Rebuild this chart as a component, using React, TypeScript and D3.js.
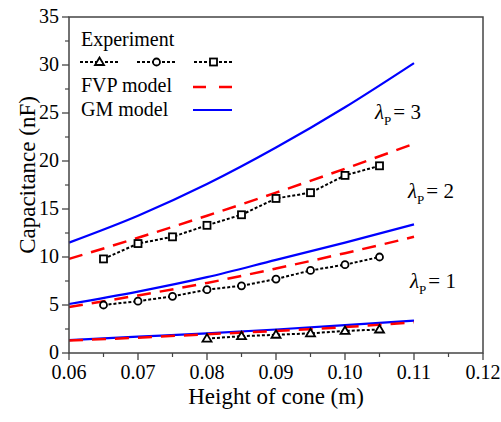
import React from 'react';
import * as d3 from 'd3';

// model curves, sampled every 0.01 m
const modelX = [0.06, 0.07, 0.08, 0.09, 0.10, 0.11];
const gm3 = [11.5, 14.3, 17.6, 21.4, 25.6, 30.2];
const fvp3 = [9.8, 12.0, 14.3, 16.7, 19.2, 21.8];
const gm2 = [5.1, 6.4, 7.9, 9.7, 11.5, 13.4];
const fvp2 = [4.8, 6.0, 7.3, 8.8, 10.4, 12.1];
const gm1 = [1.35, 1.7, 2.05, 2.45, 2.9, 3.37];
const fvp1 = [1.3, 1.6, 1.95, 2.3, 2.7, 3.2];

// experiments
const expX = [0.065, 0.07, 0.075, 0.08, 0.085, 0.09, 0.095, 0.10, 0.105];
const exp3 = [9.8, 11.4, 12.1, 13.3, 14.4, 16.1, 16.7, 18.5, 19.5];
const exp2 = [5.0, 5.4, 5.9, 6.6, 7.0, 7.7, 8.6, 9.2, 10.0];
const exp1X = [0.08, 0.085, 0.09, 0.095, 0.10, 0.105];
const exp1 = [1.5, 1.75, 1.9, 2.05, 2.3, 2.45];

const xTicks = [0.06, 0.07, 0.08, 0.09, 0.10, 0.11, 0.12];
const yTicks = [0, 5, 10, 15, 20, 25, 30, 35];

const W = 501, H = 422;
const left = 69, right = 483, top = 17, bottom = 353;
const font = "'Liberation Serif', 'Times New Roman', Times, serif";
const BLUE = '#0000ff', RED = '#ff0000';

const x = d3.scaleLinear().domain([0.06, 0.12]).range([left, right]);
const y = d3.scaleLinear().domain([0, 35]).range([bottom, top]);

const line = d3.line<[number, number]>().x(d => x(d[0])).y(d => y(d[1]));
const curve = d3.line<[number, number]>().x(d => x(d[0])).y(d => y(d[1])).curve(d3.curveMonotoneX);
const zip = (xs: number[], ys: number[]) => xs.map((v, i) => [v, ys[i]] as [number, number]);

const Marker = ({ kind, cx, cy }: { kind: string; cx: number; cy: number }) => {
  const s = 3.5;
  if (kind === 'square')
    return <rect x={cx - s} y={cy - s} width={2 * s} height={2 * s} fill="#fff" stroke="#000" strokeWidth={1.8} />;
  if (kind === 'circle')
    return <circle cx={cx} cy={cy} r={s} fill="#fff" stroke="#000" strokeWidth={1.8} />;
  return <path d={`M${cx},${cy - 4.5}L${cx + 4.5},${cy + 3}L${cx - 4.5},${cy + 3}Z`} fill="#fff" stroke="#000" strokeWidth={1.8} />;
};

const Lambda = ({ px, py, n }: { px: number; py: number; n: number }) => (
  <text x={px} y={py} style={{ fontFamily: font, fontSize: 21 }} fill="#000">
    <tspan fontStyle="italic">λ</tspan>
    <tspan style={{ fontSize: 13 }} dy={6}>P</tspan>
    <tspan dy={-6} dx={2}>= {n}</tspan>
  </text>
);

const txt = (size: number) => ({ fontFamily: font, fontSize: size });

export default function App() {
  const experiments = [
    { xs: exp1X, ys: exp1, kind: 'triangle' },
    { xs: expX, ys: exp2, kind: 'circle' },
    { xs: expX, ys: exp3, kind: 'square' },
  ];
  const xMinor = d3.range(0.065, 0.12, 0.01);
  const yMinor = d3.range(2.5, 35, 5);

  return (
    <svg width={W} height={H} style={{ position: 'absolute', left: 0, top: 0, background: '#fff' }}>
      {/* models */}
      {[gm1, gm2, gm3].map((d, i) => (
        <path key={'gm' + i} d={curve(zip(modelX, d)) || ''} fill="none" stroke={BLUE} strokeWidth={2.2} />
      ))}
      {[fvp1, fvp2, fvp3].map((d, i) => (
        <path key={'fvp' + i} d={curve(zip(modelX, d)) || ''} fill="none" stroke={RED} strokeWidth={2.5} strokeDasharray="14,9" />
      ))}

      {/* experiments */}
      {experiments.map((e, i) => (
        <g key={'ex' + i}>
          <path d={line(zip(e.xs, e.ys)) || ''} fill="none" stroke="#000" strokeWidth={2} strokeDasharray="3,2" />
          {e.xs.map((v, j) => (
            <Marker key={j} kind={e.kind} cx={x(v)} cy={y(e.ys[j])} />
          ))}
        </g>
      ))}

      {/* frame */}
      <rect x={left} y={top} width={right - left} height={bottom - top} fill="none" stroke="#444" strokeWidth={1.5} />

      {/* x axis */}
      {xTicks.map(t => (
        <g key={'xt' + t}>
          <line x1={x(t)} x2={x(t)} y1={bottom} y2={bottom + 7} stroke="#444" strokeWidth={1.3} />
          <text x={x(t)} y={bottom + 26} textAnchor="middle" style={txt(20)}>{t.toFixed(2)}</text>
        </g>
      ))}
      {xMinor.map(t => (
        <line key={'xm' + t} x1={x(t)} x2={x(t)} y1={bottom} y2={bottom + 4} stroke="#444" strokeWidth={1.2} />
      ))}
      <text x={(left + right) / 2} y={404} textAnchor="middle" style={txt(23)}>Height of cone (m)</text>

      {/* y axis */}
      {yTicks.map(t => (
        <g key={'yt' + t}>
          <line x1={left - 7} x2={left} y1={y(t)} y2={y(t)} stroke="#444" strokeWidth={1.3} />
          <text x={left - 10} y={y(t) + 6} textAnchor="end" style={txt(20)}>{t}</text>
        </g>
      ))}
      {yMinor.map(t => (
        <line key={'ym' + t} x1={left - 4} x2={left} y1={y(t)} y2={y(t)} stroke="#444" strokeWidth={1.2} />
      ))}
      <text transform={`translate(35,${(top + bottom) / 2 - 10}) rotate(-90)`} textAnchor="middle" style={txt(23)}>Capacitance (nF)</text>

      {/* legend */}
      <text x={81} y={46} style={txt(20)}>Experiment</text>
      {['triangle', 'circle', 'square'].map((k, i) => {
        const x0 = 80 + i * 57;
        return (
          <g key={'lg' + k}>
            <line x1={x0} x2={x0 + 39} y1={62} y2={62} stroke="#000" strokeWidth={2} strokeDasharray="3,2" />
            <Marker kind={k} cx={x0 + 19.5} cy={62} />
          </g>
        );
      })}
      <text x={81} y={92} style={txt(20)}>FVP model</text>
      <line x1={193} x2={232} y1={87} y2={87} stroke={RED} strokeWidth={2.5} strokeDasharray="13,13" />
      <text x={81} y={116} style={txt(20)}>GM model</text>
      <line x1={193} x2={232} y1={110} y2={110} stroke={BLUE} strokeWidth={2.2} />

      {/* lambda labels */}
      <Lambda px={375} py={119} n={3} />
      <Lambda px={408} py={198} n={2} />
      <Lambda px={410} py={288} n={1} />
    </svg>
  );
}
